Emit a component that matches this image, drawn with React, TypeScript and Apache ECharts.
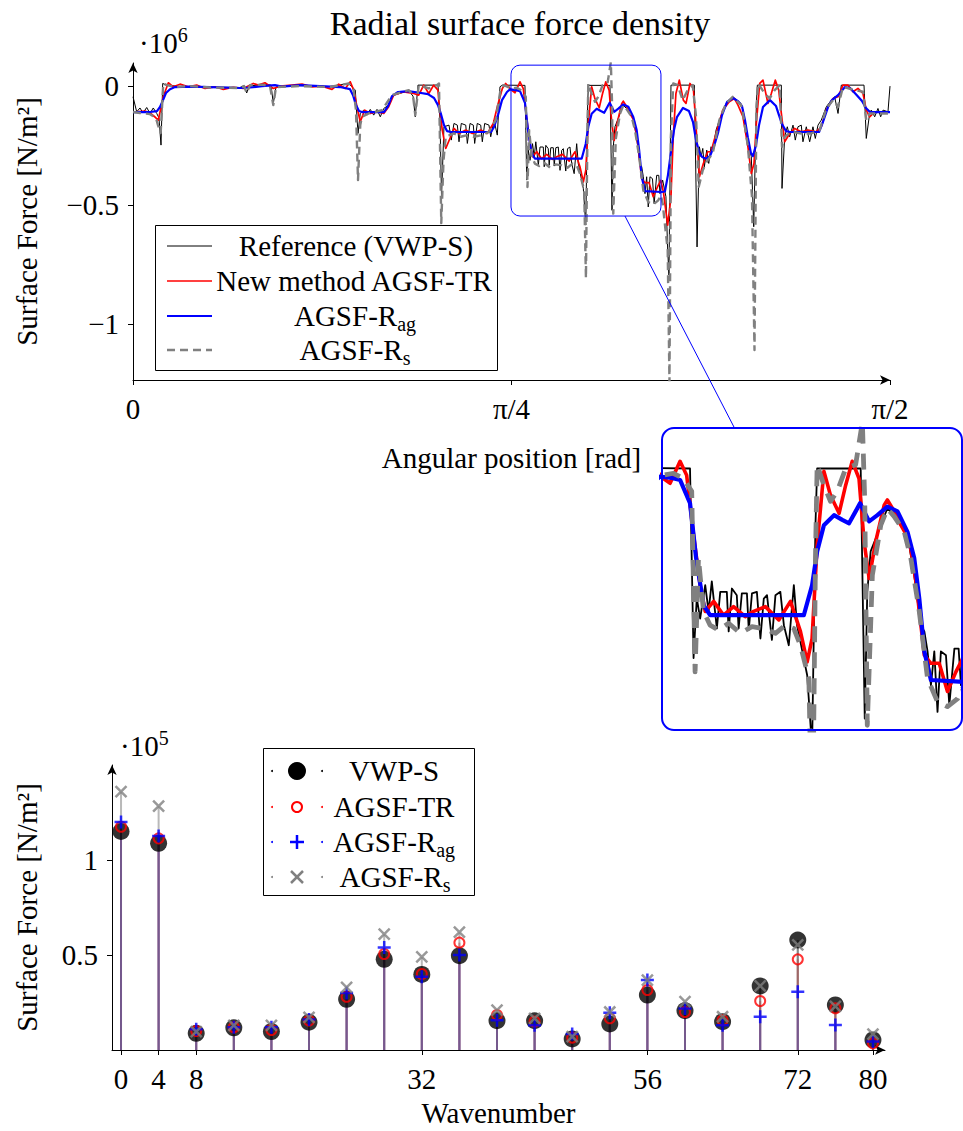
import React, { useEffect, useRef } from "react";
import * as echarts from "echarts";

const FONT = '"Liberation Serif", "DejaVu Serif", serif';
const FS = 29;

// ---------- Top chart: angle [deg, shown as rad], surface force [x1e6 N/m^2] ----------
const VWP_S: [number, number][] = [
  [0, -0.045], [0.44, -0.108], [0.83, -0.092], [1.19, -0.113], [1.63, -0.09], [2.02, -0.115], [2.41, -0.092], [2.82, -0.115],
  [3.09, -0.134], [3.33, -0.248], [3.53, 0.011], [4.01, 0.004], [5.59, -0.002], [9.15, -0.004], [12.72, -0.006], [13.2, 0.002],
  [13.52, -0.029], [13.79, 0], [15.69, 0.008], [16.41, 0.004], [16.68, -0.073], [17.0, -0.004], [19.85, 0.002], [23.42, -0.002],
  [25.64, 0.011], [26.43, -0.017], [26.75, -0.199], [27.02, -0.115], [27.43, -0.101], [27.82, -0.122], [28.21, -0.098], [28.62, -0.122],
  [29.01, -0.098], [29.4, -0.129], [29.81, -0.094], [30.4, -0.08], [30.99, -0.038], [32.78, -0.02], [33.29, -0.042], [33.56, -0.129],
  [33.88, 0.004], [36.26, 0.004], [36.5, -0.143], [36.68, -0.466], [36.97, -0.171], [37.57, -0.164], [37.84, -0.227], [38.16, -0.157],
  [38.56, -0.164], [38.76, -0.234], [39.03, -0.157], [39.56, -0.164], [39.75, -0.241], [40.07, -0.157], [40.46, -0.164], [40.62, -0.241],
  [40.93, -0.157], [41.34, -0.164], [41.53, -0.234], [41.81, -0.157], [42.32, -0.164], [42.53, -0.213], [42.92, -0.143], [43.31, -0.206],
  [43.63, -0.003], [43.91, 0.004], [46.6, 0.003], [46.7, -0.185], [46.81, -0.395], [47.0, -0.269], [47.2, -0.312], [47.5, -0.242],
  [47.7, -0.297], [47.89, -0.234], [48.19, -0.333], [48.39, -0.256], [48.78, -0.256], [48.89, -0.339], [49.08, -0.249], [49.37, -0.263],
  [49.48, -0.333], [49.67, -0.259], [49.97, -0.259], [50.08, -0.336], [50.27, -0.259], [50.56, -0.256], [50.77, -0.354], [50.97, -0.27],
  [51.16, -0.263], [51.45, -0.357], [51.66, -0.263], [51.95, -0.256], [52.16, -0.326], [52.45, -0.368], [52.75, -0.242], [52.94, -0.326],
  [53.14, -0.361], [53.54, -0.431], [53.83, -0.584], [54.03, -0.116], [54.13, 0.003], [56.71, 0.003], [56.95, -0.522], [57.1, -0.256],
  [57.3, -0.171], [57.6, -0.144], [57.9, -0.116], [58.29, -0.081], [58.7, -0.095], [59.09, -0.116], [59.48, -0.137], [59.88, -0.221],
  [60.27, -0.326], [60.48, -0.339], [60.67, -0.381], [60.87, -0.452], [61.07, -0.381], [61.26, -0.508], [61.46, -0.381], [61.76, -0.389],
  [61.96, -0.494], [62.26, -0.375], [62.51, -0.375], [62.65, -0.452], [62.85, -0.41], [62.97, -0.395], [63.36, -0.465], [63.57, -0.689],
  [63.72, -0.794], [63.96, 0.004], [66.74, 0.004], [67.06, -0.676], [67.34, -0.255], [67.54, -0.297], [67.74, -0.262], [67.93, -0.339],
  [68.21, -0.269], [68.45, -0.325], [68.72, -0.255], [68.92, -0.269], [69.32, -0.185], [69.71, -0.143], [70.5, -0.073], [71.3, -0.045],
  [72.29, -0.073], [72.52, -0.101], [73.11, -0.227], [73.51, -0.297], [73.8, -0.591], [74.11, -0.073], [74.23, 0.004], [77.08, 0.004],
  [77.16, -0.43], [77.48, -0.213], [77.79, -0.171], [78.07, -0.213], [78.47, -0.164], [78.74, -0.227], [79.06, -0.171], [79.45, -0.164],
  [79.65, -0.234], [80.05, -0.171], [80.45, -0.234], [80.84, -0.171], [81.12, -0.22], [81.44, -0.164], [81.83, -0.143], [82.43, -0.087],
  [83.02, -0.059], [83.42, -0.045], [83.82, -0.115], [84.21, 0.004], [86.91, 0.004], [87.18, -0.22], [87.58, -0.115], [87.77, -0.101],
  [88.18, -0.129], [88.57, -0.094], [88.89, -0.129], [89.17, -0.101], [89.76, -0.108], [90, 0],
];

const AGSF_TR: [number, number][] = [
  [0, -0.109], [1.43, -0.105], [2.02, -0.113], [2.62, -0.13], [3.01, -0.143], [3.6, -0.045], [4.2, 0.014], [4.79, -0.003],
  [5.59, 0.008], [6.57, -0.003], [7.57, 0.004], [8.56, -0.01], [9.75, -0.003], [10.74, -0.014], [11.92, -0.005], [13.11, -0.01],
  [14.3, 0.011], [14.9, 0.004], [15.69, 0.014], [16.68, -0.01], [17.48, 0], [18.9, 0.004], [20.09, 0.008], [21.28, -0.003],
  [22.47, 0], [23.66, -0.014], [24.46, 0.008], [25.24, -0.01], [25.83, 0.018], [26.24, -0.017], [26.63, -0.087], [27.02, -0.15],
  [27.55, -0.101], [28.21, -0.115], [29.01, -0.108], [29.81, -0.115], [30.4, -0.087], [30.99, -0.038], [32.18, -0.024], [33.37, -0.031],
  [33.97, -0.038], [34.56, 0.004], [35.16, -0.031], [35.75, 0.004], [36.26, -0.017], [36.38, -0.073], [36.77, -0.185], [37.18, -0.262],
  [37.77, -0.213], [38.16, -0.178], [38.76, -0.199], [39.56, -0.185], [40.34, -0.199], [41.34, -0.185], [42.12, -0.199], [42.84, -0.157],
  [43.31, -0.087], [43.91, -0.01], [44.31, 0.011], [45.02, -0.018], [45.42, -0.028], [46.01, 0.018], [46.4, -0.011], [46.81, -0.137],
  [47.2, -0.242], [47.5, -0.297], [48.0, -0.276], [48.59, -0.305], [49.18, -0.287], [49.87, -0.308], [50.37, -0.297], [51.06, -0.287],
  [51.86, -0.315], [52.55, -0.276], [53.14, -0.339], [53.54, -0.403], [53.83, -0.354], [54.13, -0.158], [54.53, -0.003], [54.92, -0.053],
  [55.43, -0.091], [55.82, -0.032], [56.21, 0.018], [56.61, -0.018], [56.91, -0.15], [57.21, -0.228], [57.6, -0.15], [58.1, -0.074],
  [58.29, -0.063], [58.7, -0.087], [59.09, -0.116], [59.59, -0.147], [59.98, -0.234], [60.48, -0.389], [60.87, -0.406], [61.36, -0.406],
  [61.85, -0.465], [62.35, -0.424], [62.75, -0.396], [63.06, -0.445], [63.57, -0.584], [63.96, -0.465], [64.23, -0.213], [64.55, -0.031],
  [64.95, 0.025], [65.43, -0.059], [65.75, -0.073], [66.22, 0.011], [66.62, -0.01], [66.94, -0.171], [67.34, -0.381], [67.81, -0.325],
  [68.33, -0.276], [68.72, -0.276], [69.32, -0.199], [70.11, -0.101], [70.89, -0.066], [71.49, -0.052], [71.93, -0.08], [72.52, -0.129],
  [73.11, -0.255], [73.51, -0.367], [73.83, -0.325], [74.11, -0.157], [74.51, 0.011], [74.9, 0.025], [75.49, -0.073], [75.89, -0.031],
  [76.36, 0.025], [76.77, -0.017], [77.08, -0.115], [77.48, -0.234], [78.07, -0.199], [78.67, -0.178], [79.45, -0.192], [80.25, -0.185],
  [81.24, -0.192], [81.83, -0.171], [82.43, -0.101], [83.22, -0.052], [83.82, -0.045], [84.41, 0.004], [85.0, 0.004], [85.6, -0.024],
  [86.19, -0.01], [86.79, -0.031], [87.18, -0.101], [87.58, -0.129], [88.18, -0.108], [88.96, -0.108], [90, -0.108],
];

const AGSF_RAG: [number, number][] = [
  [0, -0.109], [2.02, -0.109], [2.85, -0.105], [3.21, -0.088], [3.57, -0.059], [3.92, -0.029], [4.4, -0.013], [4.99, -0.004],
  [6.78, -0.002], [9.15, -0.004], [12.72, -0.008], [13.91, -0.006], [15.34, 0], [16.88, 0.004], [17.71, -0.002], [19.85, 0.004],
  [22.23, 0], [24.61, -0.004], [25.8, -0.013], [26.16, -0.038], [26.51, -0.08], [26.87, -0.105], [27.22, -0.109], [29.84, -0.109],
  [30.32, -0.084], [30.79, -0.042], [31.51, -0.025], [32.69, -0.021], [33.88, -0.027], [35.07, -0.034], [35.79, -0.05], [36.26, -0.08],
  [36.62, -0.118], [36.97, -0.164], [37.33, -0.189], [37.81, -0.193], [42.56, -0.193], [42.92, -0.172], [43.39, -0.122], [43.87, -0.059],
  [44.46, -0.025], [44.82, -0.014], [45.53, -0.017], [46.01, -0.021], [46.6, -0.07], [46.96, -0.185], [47.4, -0.284], [47.79, -0.305],
  [53.34, -0.305], [53.83, -0.242], [54.13, -0.171], [54.53, -0.116], [55.13, -0.095], [55.62, -0.105], [56.02, -0.112], [56.41, -0.087],
  [56.67, -0.07], [57.21, -0.108], [57.7, -0.095], [58.29, -0.077], [58.89, -0.087], [59.48, -0.13], [59.88, -0.185], [60.18, -0.27],
  [60.48, -0.381], [60.87, -0.441], [62.85, -0.445], [63.24, -0.443], [63.6, -0.374], [63.96, -0.277], [64.32, -0.185], [64.67, -0.13],
  [65.39, -0.092], [66.1, -0.105], [66.58, -0.151], [66.94, -0.227], [67.3, -0.277], [67.66, -0.298], [68.13, -0.305], [68.6, -0.294],
  [69.08, -0.252], [69.55, -0.197], [70.03, -0.122], [70.62, -0.067], [71.33, -0.05], [71.93, -0.063], [72.4, -0.084], [72.76, -0.143],
  [73.11, -0.218], [73.47, -0.282], [73.71, -0.294], [74.07, -0.248], [74.43, -0.164], [74.9, -0.088], [75.73, -0.059], [76.45, -0.084],
  [76.8, -0.122], [77.16, -0.16], [77.63, -0.189], [78.11, -0.193], [81.56, -0.193], [82.03, -0.151], [82.63, -0.088], [83.1, -0.059],
  [83.82, -0.038], [84.65, -0.004], [85.24, -0.008], [85.95, -0.034], [86.67, -0.063], [87.14, -0.092], [87.62, -0.109], [90, -0.109],
];

const AGSF_RS: [number, number][] = [
  [0, -0.109], [0.83, -0.113], [2.02, -0.118], [2.73, -0.134], [2.97, -0.164], [3.29, -0.197], [3.6, 0.011], [4.01, 0.004],
  [4.99, -0.004], [6.78, 0], [9.15, -0.006], [12.72, -0.008], [13.2, 0], [13.52, -0.029], [13.91, 0.004], [15.34, 0.006],
  [16.29, 0], [16.68, -0.08], [17.0, -0.004], [19.85, 0], [23.42, -0.004], [25.64, 0.011], [26.24, -0.017], [26.51, -0.101],
  [26.75, -0.395], [27.02, -0.164], [27.22, -0.129], [28.02, -0.115], [28.77, -0.109], [29.6, -0.101], [30.79, -0.038], [32.78, -0.017],
  [33.29, -0.038], [33.56, -0.122], [33.97, 0.004], [35.16, -0.01], [36.14, 0.004], [36.38, 0.011], [36.65, -0.576], [36.92, -0.311],
  [37.18, -0.213], [38.16, -0.199], [38.96, -0.213], [39.75, -0.206], [40.54, -0.213], [41.53, -0.206], [42.32, -0.192], [43.12, -0.143],
  [43.72, -0.01], [44.11, 0.004], [45.02, -0.011], [45.62, -0.007], [46.21, -0.018], [46.7, -0.045], [46.9, -0.424], [47.1, -0.185],
  [47.4, -0.297], [47.79, -0.326], [48.29, -0.336], [48.89, -0.322], [49.58, -0.343], [50.27, -0.329], [50.97, -0.333], [51.66, -0.343],
  [52.25, -0.326], [52.75, -0.333], [53.14, -0.368], [53.64, -0.438], [53.85, -0.807], [54.03, -0.185], [54.13, 0.011], [54.53, -0.032],
  [54.92, -0.066], [55.32, -0.045], [55.82, 0.003], [56.41, 0.011], [56.81, 0.1], [56.95, -0.066], [57.1, -0.536], [57.4, -0.221],
  [57.9, -0.116], [58.29, -0.081], [58.7, -0.098], [59.29, -0.13], [59.68, -0.185], [60.18, -0.297], [60.67, -0.438], [61.26, -0.487],
  [61.85, -0.497], [62.45, -0.48], [62.75, -0.459], [62.97, -0.492], [63.57, -0.689], [63.78, -1.244], [63.96, -0.213], [64.23, 0.011],
  [64.76, 0.004], [65.35, -0.059], [65.95, -0.017], [66.54, 0.004], [66.94, -0.129], [67.26, -0.423], [67.74, -0.353], [68.33, -0.311],
  [68.92, -0.283], [69.71, -0.143], [70.5, -0.073], [71.3, -0.045], [72.29, -0.08], [72.52, -0.115], [73.11, -0.255], [73.59, -0.465],
  [73.89, -1.109], [74.11, -0.101], [74.31, 0.011], [75.1, -0.031], [75.7, -0.052], [76.29, -0.017], [76.89, 0.004], [77.16, -0.255],
  [77.48, -0.213], [78.27, -0.192], [79.45, -0.199], [80.64, -0.199], [81.64, -0.185], [82.43, -0.094], [83.22, -0.059], [83.82, -0.087],
  [84.41, -0.003], [85.8, -0.017], [86.79, -0.024], [87.18, -0.143], [87.58, -0.115], [88.57, -0.115], [90, -0.115],
];

const ANGLE_TICKS = [0, 45, 90];
const ANGLE_TICK_LABELS = ["0", "π/4", "π/2"];
const FORCE_TICKS = [-1, -0.5, 0];
const ZOOM_X = [44.94, 62.77];
const ZOOM_Y = [-0.546, 0.088];

// ---------- Bottom chart: harmonics [x1e5 N/m^2] ----------
const WAVENUMBERS = [0, 4, 8, 12, 16, 20, 24, 28, 32, 36, 40, 44, 48, 52, 56, 60, 64, 68, 72, 76, 80];
const HARM_VWP_S = [1.15, 1.088, 0.088, 0.117, 0.097, 0.146, 0.267, 0.477, 0.398, 0.496, 0.154, 0.154, 0.058, 0.137, 0.289, 0.207, 0.149, 0.337, 0.579, 0.237, 0.053];
const HARM_AGSF_TR = [1.175, 1.114, 0.1, 0.12, 0.105, 0.155, 0.28, 0.505, 0.4, 0.565, 0.184, 0.15, 0.065, 0.167, 0.316, 0.2, 0.157, 0.258, 0.477, 0.22, 0.035];
const HARM_AGSF_RAG = [1.2, 1.126, 0.109, 0.12, 0.12, 0.16, 0.3, 0.54, 0.386, 0.5, 0.157, 0.13, 0.084, 0.196, 0.368, 0.219, 0.13, 0.175, 0.307, 0.132, 0.045];
const HARM_AGSF_RS = [1.36, 1.284, 0.097, 0.13, 0.13, 0.172, 0.33, 0.61, 0.49, 0.62, 0.21, 0.167, 0.07, 0.2, 0.368, 0.254, 0.175, 0.337, 0.553, 0.23, 0.084];
const WAVE_TICKS = [0, 4, 8, 32, 56, 72, 80];
const HARM_TICKS = [0.5, 1];

const BLACK = "#000000";
const RED = "#ff0000";
const BLUE = "#0000ff";
const GRAY = "#808080";

const PLUS = "path://M0,6L12,6M6,0L6,12";
const CROSS = "path://M0,0L10,10M0,10L10,0";

const RICH = {
  m: { fontSize: FS, fontFamily: FONT, lineHeight: 36, color: "#000" },
  sub: { fontSize: 20, fontFamily: FONT, verticalAlign: "bottom", color: "#000" },
  sup: { fontSize: 20, fontFamily: FONT, verticalAlign: "top", color: "#000" },
};

const textStyle = { fontFamily: FONT, fontSize: FS, color: "#000" };

function lineSeries(data: [number, number][], color: string, width: number, dash: any, idx: number, z: number) {
  return {
    type: "line",
    xAxisIndex: idx,
    yAxisIndex: idx,
    data,
    symbol: "none",
    showSymbol: false,
    silent: true,
    clip: true,
    z,
    lineStyle: { color, width, type: dash, cap: "butt", join: "round" },
  };
}

function stemSeries(vals: number[], color: string, opacity: number) {
  return {
    type: "custom",
    xAxisIndex: 1,
    yAxisIndex: 1,
    silent: true,
    z: 2,
    data: WAVENUMBERS.map((k, i) => [k, vals[i]]),
    renderItem: (_p: any, api: any) => {
      const p0 = api.coord([api.value(0), 0]);
      const p1 = api.coord([api.value(0), api.value(1)]);
      return {
        type: "line",
        shape: { x1: p0[0], y1: p0[1], x2: p1[0], y2: p1[1] },
        style: { stroke: color, lineWidth: 2, opacity },
      };
    },
  };
}

function markSeries(vals: number[], symbol: string, size: number, itemStyle: any, z: number) {
  return {
    type: "scatter",
    xAxisIndex: 1,
    yAxisIndex: 1,
    silent: true,
    data: WAVENUMBERS.map((k, i) => [k, vals[i]]),
    symbol,
    symbolSize: size,
    itemStyle,
    z,
  };
}

function axisBase(extra: any) {
  return {
    type: "value",
    splitLine: { show: false },
    axisLine: {
      show: true,
      onZero: false,
      symbol: ["none", "arrow"],
      symbolSize: [7, 10],
      lineStyle: { color: "#000", width: 1 },
    },
    nameTextStyle: textStyle,
    ...extra,
  };
}

export default function App() {
  const ref = useRef<HTMLDivElement>(null);
  useEffect(() => {
    const el = ref.current;
    if (!el) return;
    const chart = echarts.init(el, undefined, { renderer: "svg" });
    const option: any = {
      animation: false,
      backgroundColor: "#fff",
      title: {
        text: "Radial surface force density",
        left: 515,
        top: 1,
        textAlign: "center",
        textStyle: { ...textStyle, fontSize: 34, fontWeight: "normal" },
      },
      grid: [
        { left: 133, top: 63, width: 757, height: 317 },
        { left: 112, top: 765, width: 773, height: 285 },
        { left: 662, top: 428, width: 301, height: 302 },
      ],
      xAxis: [
        axisBase({
          gridIndex: 0,
          min: 0,
          max: 90,
          name: "Angular position [rad]",
          nameLocation: "middle",
          nameGap: 63,
          axisTick: { customValues: ANGLE_TICKS, length: 5, lineStyle: { color: "#000" } },
          axisLabel: {
            customValues: ANGLE_TICKS,
            margin: 14,
            ...textStyle,
            formatter: (v: number) => ANGLE_TICK_LABELS[ANGLE_TICKS.indexOf(v)] ?? "",
          },
        }),
        axisBase({
          gridIndex: 1,
          min: -0.96,
          max: 81.28,
          name: "Wavenumber",
          nameLocation: "middle",
          nameGap: 48,
          axisTick: { customValues: WAVE_TICKS, length: 5, lineStyle: { color: "#000" } },
          axisLabel: { customValues: WAVE_TICKS, margin: 14, ...textStyle, formatter: (v: number) => String(v) },
        }),
        { type: "value", gridIndex: 2, min: ZOOM_X[0], max: ZOOM_X[1], show: false },
      ],
      yAxis: [
        axisBase({
          gridIndex: 0,
          min: -1.235,
          max: 0.097,
          name: "Surface Force [N/m²]",
          nameLocation: "middle",
          nameGap: 92,
          axisTick: { customValues: FORCE_TICKS, length: 5, lineStyle: { color: "#000" } },
          axisLabel: {
            customValues: FORCE_TICKS,
            margin: 14,
            ...textStyle,
            formatter: (v: number) => (v < 0 ? "−" + String(-v) : String(v)),
          },
        }),
        axisBase({
          gridIndex: 1,
          min: 0,
          max: 1.5,
          name: "Surface Force [N/m²]",
          nameLocation: "middle",
          nameGap: 71,
          axisTick: { customValues: HARM_TICKS, length: 5, lineStyle: { color: "#000" } },
          axisLabel: { customValues: HARM_TICKS, margin: 14, ...textStyle, formatter: (v: number) => String(v) },
        }),
        { type: "value", gridIndex: 2, min: ZOOM_Y[0], max: ZOOM_Y[1], show: false },
      ],
      series: [
        lineSeries(VWP_S, BLACK, 1, "solid", 0, 2),
        lineSeries(AGSF_TR, RED, 1.7, "solid", 0, 3),
        lineSeries(AGSF_RAG, BLUE, 2.2, "solid", 0, 4),
        lineSeries(AGSF_RS, GRAY, 2.4, [8, 5], 0, 5),
        lineSeries(VWP_S, BLACK, 1.8, "solid", 2, 2),
        lineSeries(AGSF_TR, RED, 3.6, "solid", 2, 3),
        lineSeries(AGSF_RAG, BLUE, 4.2, "solid", 2, 4),
        lineSeries(AGSF_RS, GRAY, 4.8, [16, 10], 2, 5),
        stemSeries(HARM_VWP_S, BLACK, 0.45),
        stemSeries(HARM_AGSF_TR, RED, 0.45),
        stemSeries(HARM_AGSF_RAG, BLUE, 0.45),
        stemSeries(HARM_AGSF_RS, GRAY, 0.55),
        markSeries(HARM_VWP_S, "circle", 17, { color: BLACK }, 5),
        markSeries(HARM_AGSF_TR, "circle", 10, { color: "rgba(0,0,0,0)", borderColor: RED, borderWidth: 2 }, 6),
        markSeries(HARM_AGSF_RAG, PLUS, 13, { color: "rgba(0,0,0,0)", borderColor: BLUE, borderWidth: 2.5 }, 7),
        markSeries(HARM_AGSF_RS, CROSS, 11, { color: "rgba(0,0,0,0)", borderColor: GRAY, borderWidth: 2.5 }, 8),
      ],
    };
    chart.setOption(option);

    // zoom frame and magnified frame, derived from the axes
    const a = chart.convertToPixel({ xAxisIndex: 0, yAxisIndex: 0 }, [ZOOM_X[0], ZOOM_Y[1]]) as number[];
    const b = chart.convertToPixel({ xAxisIndex: 0, yAxisIndex: 0 }, [ZOOM_X[1], ZOOM_Y[0]]) as number[];
    const c = chart.convertToPixel({ xAxisIndex: 2, yAxisIndex: 2 }, [ZOOM_X[0], ZOOM_Y[1]]) as number[];
    const d = chart.convertToPixel({ xAxisIndex: 2, yAxisIndex: 2 }, [ZOOM_X[1], ZOOM_Y[0]]) as number[];
    const c1 = [(a[0] + b[0]) / 2, (a[1] + b[1]) / 2];
    const c2 = [(c[0] + d[0]) / 2, (c[1] + d[1]) / 2];
    const t1 = (b[1] - c1[1]) / (c2[1] - c1[1]);
    const t2 = (c[1] - c1[1]) / (c2[1] - c1[1]);
    const conn = {
      x1: c1[0] + t1 * (c2[0] - c1[0]),
      y1: b[1],
      x2: c1[0] + t2 * (c2[0] - c1[0]),
      y2: c[1],
    };

    const legendText = (x: number, y: number, text: string) => ({
      type: "text",
      x,
      y,
      z: 101,
      style: {
        text,
        font: `${FS}px ${FONT}`,
        fill: "#000",
        align: "center",
        verticalAlign: "middle",
        textAlign: "center",
        textVerticalAlign: "middle",
        rich: RICH,
      },
    });
    const topRows = [246, 281, 316, 350];
    const botRows = [771, 807, 842, 877];
    const dots = (y: number, color: string) => [
      { type: "circle", z: 101, shape: { cx: 272, cy: y, r: 1 }, style: { fill: color } },
      { type: "circle", z: 101, shape: { cx: 322, cy: y, r: 1 }, style: { fill: color } },
    ];

    chart.setOption({
      graphic: [
        // exponent labels
        { type: "text", x: 139, y: 43, z: 50, style: { text: "{m|·10}{sup|6}", rich: RICH, align: "left", verticalAlign: "middle", textVerticalAlign: "middle" } },
        { type: "text", x: 120, y: 746, z: 50, style: { text: "{m|·10}{sup|5}", rich: RICH, align: "left", verticalAlign: "middle", textVerticalAlign: "middle" } },
        // zoom frame, magnified frame, connector
        { type: "rect", z: 90, shape: { x: a[0], y: a[1], width: b[0] - a[0], height: b[1] - a[1], r: 9 }, style: { fill: "none", stroke: BLUE, lineWidth: 1 } },
        { type: "rect", z: 90, shape: { x: c[0], y: c[1], width: d[0] - c[0] - 1, height: d[1] - c[1], r: 12 }, style: { fill: "none", stroke: BLUE, lineWidth: 2 } },
        { type: "line", z: 90, shape: conn, style: { stroke: BLUE, lineWidth: 1 } },
        // top legend
        { type: "rect", z: 100, shape: { x: 155.5, y: 225.5, width: 342, height: 145 }, style: { fill: "#fff", stroke: "#000", lineWidth: 1 } },
        { type: "line", z: 101, shape: { x1: 167, y1: topRows[0], x2: 212, y2: topRows[0] }, style: { stroke: BLACK, lineWidth: 1 } },
        { type: "line", z: 101, shape: { x1: 167, y1: topRows[1], x2: 212, y2: topRows[1] }, style: { stroke: RED, lineWidth: 1.7 } },
        { type: "line", z: 101, shape: { x1: 167, y1: topRows[2], x2: 212, y2: topRows[2] }, style: { stroke: BLUE, lineWidth: 2.2 } },
        { type: "line", z: 101, shape: { x1: 167, y1: topRows[3], x2: 212, y2: topRows[3] }, style: { stroke: GRAY, lineWidth: 2.4, lineDash: [8, 5] } },
        legendText(356, topRows[0], "{m|Reference (VWP-S)}"),
        legendText(354, topRows[1], "{m|New method AGSF-TR}"),
        legendText(355, topRows[2], "{m|AGSF-R}{sub|ag}"),
        legendText(355, topRows[3], "{m|AGSF-R}{sub|s}"),
        // bottom legend
        { type: "rect", z: 100, shape: { x: 263.5, y: 748.5, width: 211, height: 147 }, style: { fill: "#fff", stroke: "#000", lineWidth: 1 } },
        ...dots(botRows[0], BLACK),
        ...dots(botRows[1], RED),
        ...dots(botRows[2], BLUE),
        ...dots(botRows[3], GRAY),
        { type: "circle", z: 101, shape: { cx: 297, cy: botRows[0], r: 9 }, style: { fill: BLACK } },
        { type: "circle", z: 101, shape: { cx: 297, cy: botRows[1], r: 5 }, style: { fill: "none", stroke: RED, lineWidth: 2 } },
        { type: "line", z: 101, shape: { x1: 290, y1: botRows[2], x2: 304, y2: botRows[2] }, style: { stroke: BLUE, lineWidth: 2.5 } },
        { type: "line", z: 101, shape: { x1: 297, y1: botRows[2] - 7, x2: 297, y2: botRows[2] + 7 }, style: { stroke: BLUE, lineWidth: 2.5 } },
        { type: "line", z: 101, shape: { x1: 291, y1: botRows[3] - 6, x2: 303, y2: botRows[3] + 6 }, style: { stroke: GRAY, lineWidth: 2.5 } },
        { type: "line", z: 101, shape: { x1: 291, y1: botRows[3] + 6, x2: 303, y2: botRows[3] - 6 }, style: { stroke: GRAY, lineWidth: 2.5 } },
        legendText(394, botRows[0], "{m|VWP-S}"),
        legendText(394, botRows[1], "{m|AGSF-TR}"),
        legendText(394, botRows[2], "{m|AGSF-R}{sub|ag}"),
        legendText(395, botRows[3], "{m|AGSF-R}{sub|s}"),
      ],
    });

    return () => chart.dispose();
  }, []);
  return (
    <div
      ref={ref}
      style={{ position: "absolute", left: 0, top: 0, width: 963, height: 1131, background: "#fff" }}
    />
  );
}
